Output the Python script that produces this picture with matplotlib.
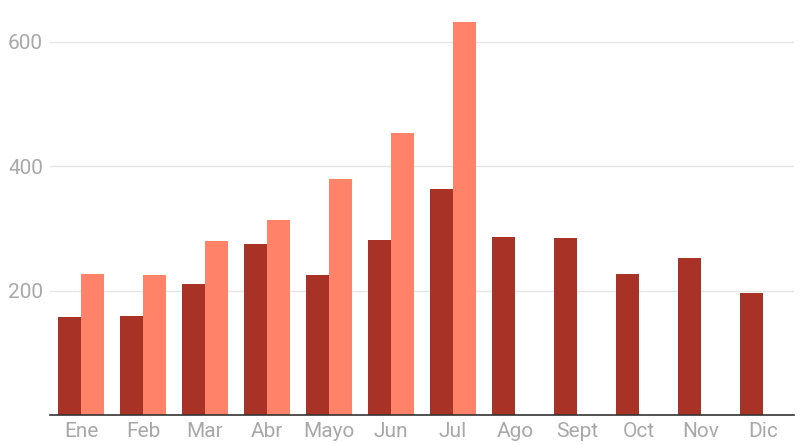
import matplotlib.pyplot as plt
import numpy as np

months = ['Ene', 'Feb', 'Mar', 'Abr', 'Mayo', 'Jun', 'Jul', 'Ago', 'Sept', 'Oct', 'Nov', 'Dic']
prev_year = [157, 159, 210, 275, 225, 281, 363, 286, 284, 226, 252, 196]
this_year = [226, 225, 280, 313, 379, 453, 631]
yticks = [200, 400, 600]

dark = '#a93226'
light = '#ff8269'
grey = '#a8a8a8'

plt.rcParams['font.family'] = ['Roboto', 'DejaVu Sans']

fig = plt.figure(figsize=(8, 4.45), dpi=100)
W, H = 800, 445
ax = fig.add_axes([50 / W, (H - 415) / H, 744 / W, 415 / H])

x = np.arange(len(months))
w = 0.37
ax.bar(x - w / 2, prev_year, width=w, color=dark, zorder=3)
ax.bar(x[:len(this_year)] + w / 2, this_year, width=w, color=light, zorder=3)

ax.set_xlim(-0.5, len(months) - 0.5)
ax.set_ylim(0, 415 / 124.5 * 200)
ax.set_yticks(yticks)
ax.set_yticklabels([str(t) for t in yticks])
ax.set_xticks(x)
ax.set_xticklabels(months)
ax.grid(axis='y', color='#e6e6e6', linewidth=1, zorder=0)
ax.tick_params(axis='both', length=0, colors=grey, labelsize=15)
ax.tick_params(axis='y', pad=5)
ax.tick_params(axis='x', pad=5)
for s in ['top', 'right', 'left']:
    ax.spines[s].set_visible(False)
ax.spines['bottom'].set_color('#333333')
ax.spines['bottom'].set_linewidth(1.2)
ax.spines['bottom'].set_zorder(4)

fig.savefig('out.png', dpi=100)
